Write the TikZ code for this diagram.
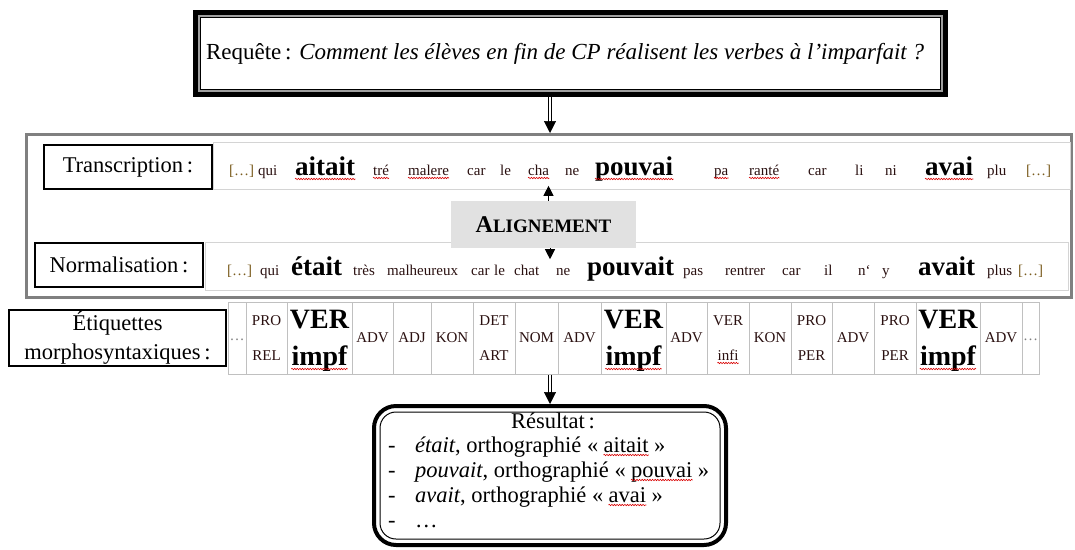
\documentclass[tikz,border=0pt]{standalone}
\usepackage{fontspec}
\setmainfont{Liberation Serif}
\usetikzlibrary{arrows.meta,decorations.pathmorphing}
\definecolor{greyframe}{HTML}{808080}
\definecolor{rowline}{HTML}{D4D4D4}
\definecolor{tabline}{HTML}{C0C0C0}
\definecolor{alfill}{HTML}{E1E1E1}
\definecolor{wordc}{HTML}{2A1010}
\definecolor{brk}{HTML}{7A5C1E}
\definecolor{midgrey}{HTML}{A0A0A0}
\tikzset{
  labbox/.style={draw=black, line width=2pt, fill=white, inner sep=0pt, font=\fontsize{22.5}{29}\selectfont, align=center},
  rowbox/.style={draw=rowline, line width=1pt, fill=white, inner sep=0pt},
  sm/.style={inner sep=0pt, anchor=base west, font=\fontsize{15}{17}\selectfont, text=wordc},
  bg/.style={inner sep=0pt, anchor=base west, font=\fontsize{27}{30}\selectfont\bfseries, text=black},
  csm/.style={inner sep=0pt, anchor=base, font=\fontsize{15}{17}\selectfont, text=wordc},
  cbg/.style={inner sep=0pt, anchor=base, font=\fontsize{28}{30}\selectfont\bfseries},
  rtxt/.style={inner sep=0pt, anchor=base west, font=\fontsize{22.5}{27}\selectfont},
  squig/.style={draw=red!85!black, line width=0.6pt, decorate, decoration={snake, amplitude=0.7pt, segment length=2.6pt}},
  dbl/.style={draw=black, double=white, line width=0.7pt, double distance=2pt},
  arrtip/.style={-{Triangle[width=12pt,length=12pt]}, line width=0.5pt},
  smalltip/.style={-{Triangle[width=10pt,length=10pt]}, line width=0.8pt},
}
\begin{document}
\begin{tikzpicture}[x=1pt,y=-1pt]
\useasboundingbox (0,0) rectangle (1075,549);
\coordinate (ax) at (550,0);

% --- request box
\node[inner sep=0pt, minimum width=755pt, minimum height=87pt] (req) at (570.5,53.5) {};
\draw[line width=5pt] ([shift={(2.5,2.5)}]req.north west) rectangle ([shift={(-2.5,-2.5)}]req.south east);
\draw[midgrey, line width=2pt] ([shift={(6,6)}]req.north west) rectangle ([shift={(-6,-6)}]req.south east);
\draw[line width=1pt] ([shift={(7.5,7.5)}]req.north west) rectangle ([shift={(-7.5,-7.5)}]req.south east);
\node[inner sep=0pt, font=\fontsize{23}{27}\selectfont] (reqt) at (565,53.5) {Requête\,: \textit{Comment les élèves en fin de CP réalisent les verbes à l’imparfait ?}};

% --- grey frame
\node[draw=greyframe, line width=3pt, minimum width=1045pt, minimum height=163pt, inner sep=0pt] (grp) at (549,216) {};

\coordinate (a1) at (req.south -| ax);
\coordinate (a2) at (grp.north -| ax);
\draw[dbl] (a1) -- ([shift={(0,-11)}]a2);
\draw[arrtip] ([shift={(0,-12)}]a2) -- (a2);

% --- rows
\node[rowbox, minimum width=857pt, minimum height=47pt] (rt) at (641.5,165.5) {};
\node[rowbox, minimum width=863pt, minimum height=48pt] (rn) at (636.5,266) {};
\node[labbox, minimum width=168pt, minimum height=44pt] (lt) at (128,167) {Transcription\,:};
\node[labbox, minimum width=168pt, minimum height=44pt] (ln) at (119,265) {Normalisation\,:};

% --- alignment box
\node[fill=alfill, minimum width=185pt, minimum height=47pt, inner sep=0pt, font=\bfseries] (al) at (543.5,224.5) {{\fontsize{24}{26}\selectfont A}{\fontsize{19}{22}\selectfont LIGNEMENT}};
\draw[smalltip] ([shift={(5,0)}]al.north) -- ([shift={(5,-15)}]al.north);
\draw[smalltip] ([shift={(6.5,0)}]al.south) -- ([shift={(6.5,11)}]al.south);

% --- transcription words
\node[sm, text=brk] (tb1) at (229,175) {[…]};
\node[sm, text=brk] (tb2) at (1026,175) {[…]};
\foreach \x/\w/\q in {258/qui/0, 373/tré/1, 408/malere/1, 467/car/0, 500/le/0, 528/cha/1, 565/ne/0, 714/pa/1, 749/ranté/1, 808/car/0, 855/li/0, 885/ni/0, 987/plu/0}{
  \node[sm] (t\x) at (\x,175) {\w};
  \ifnum\q=1 \draw[squig] ([yshift=-3pt]t\x.base west) -- ([yshift=-3pt]t\x.base east);\fi
}
\node[bg] (tw1) at (295,175) {aitait};
\node[bg] (tw2) at (595,175) {pouvai};
\node[bg] (tw3) at (925,175) {avai};
\foreach \n in {tw1,tw2,tw3}{
  \draw[squig] ([yshift=-4pt]\n.base west) -- ([yshift=-4pt]\n.base east);
}

% --- normalisation words
\node[sm, text=brk] (nb1) at (227,275) {[…]};
\node[sm, text=brk] (nb2) at (1018,275) {[…]};
\foreach \x/\w in {260/qui, 353/très, 387/malheureux, 471/car, 494/le, 514/chat, 556/ne, 683/pas, 725/rentrer, 782/car, 824/il, 858/n‘, 882/y, 987/plus}{
  \node[sm] (n\x) at (\x,275) {\w};
}
\node[bg] (nw1) at (291,275) {était};
\node[bg] (nw2) at (587,275) {pouvait};
\node[bg] (nw3) at (918,275) {avait};

% --- tags
\node[labbox, minimum width=217pt, minimum height=56pt] (le) at (117.5,338) {Étiquettes\\morphosyntaxiques\,:};
\node[draw=tabline, line width=1pt, minimum width=811pt, minimum height=72pt, inner sep=0pt] (tab) at (633.5,338) {};
\foreach \c in {246,287,352,393,431,473,515,558,601,666,707,749,791,832,874,916,980,1022}{
  \draw[tabline, line width=1pt] (\c,302) -- (\c,374);
}
\node[csm, text=gray] (e1) at (237,340) {…};
\node[csm, text=gray] (e2) at (1030.5,340) {…};
\foreach \x/\w [count=\k] in {372.5/ADV, 412/ADJ, 452/KON, 536.5/NOM, 579.5/ADV, 686.5/ADV, 770/KON, 853/ADV, 1001/ADV}{
  \node[csm] (s\k) at (\x,342) {\w};
}
\foreach \x/\a/\b [count=\k] in {266.5/PRO/REL, 494/DET/ART, 811.5/PRO/PER, 895/PRO/PER, 728/VER/infi}{
  \node[csm] (pa\k) at (\x,325) {\a};
  \node[csm] (pb\k) at (\x,360) {\b};
}
\draw[squig] ([yshift=-3pt]pb5.base west) -- ([yshift=-3pt]pb5.base east);
\foreach \x [count=\k] in {319.5,633.5,948}{
  \node[cbg] (va\k) at (\x,328) {VER};
  \node[cbg] (vb\k) at (\x,365) {impf};
  \draw[squig] ([yshift=-4pt]vb\k.base west) -- ([yshift=-4pt]vb\k.base east);
}

% --- result box
\node[draw=black, line width=4pt, rounded corners=22pt, minimum width=352pt, minimum height=139pt, inner sep=0pt] (res) at (550,475.5) {};
\draw[line width=1pt, rounded corners=16pt] ([shift={(8,8)}]res.north west) rectangle ([shift={(-8,-8)}]res.south east);

\coordinate (b1) at (tab.south -| ax);
\coordinate (b2) at (res.north -| ax);
\draw[dbl] (b1) -- ([shift={(0,-11)}]b2);
\draw[arrtip] ([shift={(0,-12)}]b2) -- (b2);

\node[rtxt, anchor=base] (r0) at (553,428) {Résultat\,:};
\foreach \y/\i in {452/1, 477/2, 502/3, 527/4}{
  \node[rtxt] (d\i) at (388,\y) {-};
}
\node[rtxt] (r1a) at (415,452) {\textit{était}, orthographié «};
\node[rtxt] (r1b) at ([xshift=5pt]r1a.base east) {aitait};
\node[rtxt] (r1c) at ([xshift=5pt]r1b.base east) {»};
\node[rtxt] (r2a) at (415,477) {\textit{pouvait}, orthographié «};
\node[rtxt] (r2b) at ([xshift=5pt]r2a.base east) {pouvai};
\node[rtxt] (r2c) at ([xshift=5pt]r2b.base east) {»};
\node[rtxt] (r3a) at (415,502) {\textit{avait}, orthographié «};
\node[rtxt] (r3b) at ([xshift=5pt]r3a.base east) {avai};
\node[rtxt] (r3c) at ([xshift=5pt]r3b.base east) {»};
\node[rtxt] (r4a) at (415,527) {…};
\foreach \n in {r1b,r2b,r3b}{
  \draw[squig] ([yshift=-3pt]\n.base west) -- ([yshift=-3pt]\n.base east);
}
\end{tikzpicture}
\end{document}
